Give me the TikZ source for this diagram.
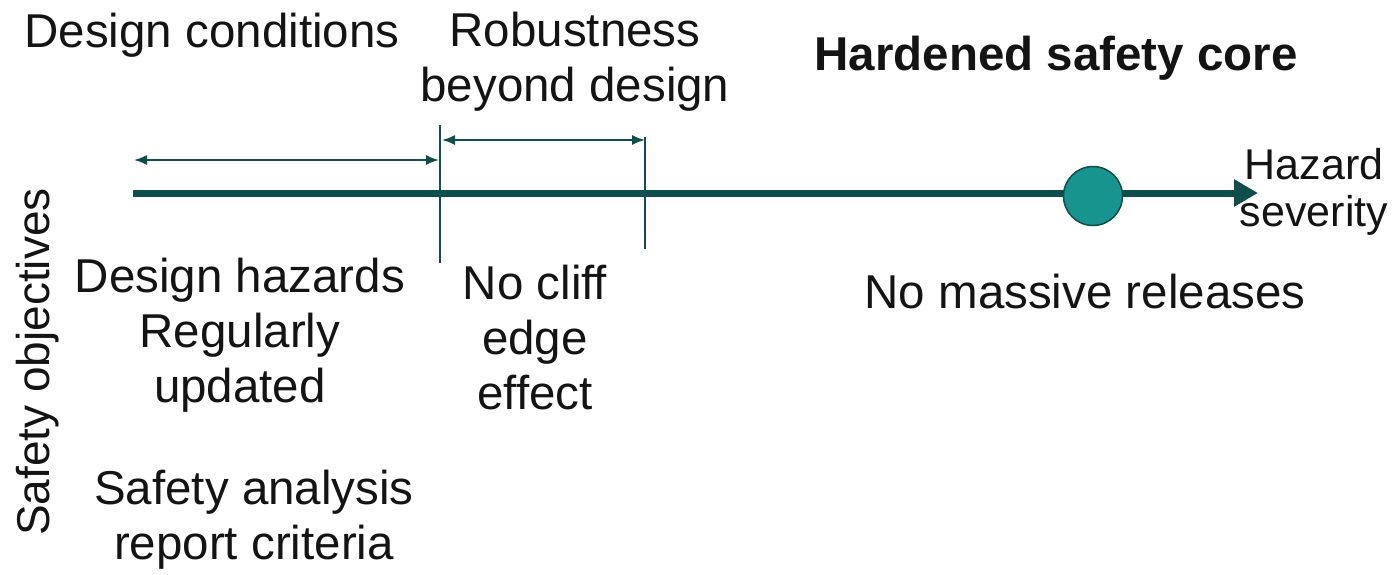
\documentclass[tikz,border=0pt]{standalone}
\usepackage{fontspec}
\setmainfont{Liberation Sans}
\usetikzlibrary{arrows.meta}
\definecolor{axisc}{RGB}{14,78,76}
\definecolor{dotc}{RGB}{24,148,142}
\definecolor{txt}{RGB}{20,20,20}
\begin{document}
\begin{tikzpicture}[x=1pt,y=-1pt,
  lbl/.style={inner sep=0pt, align=center, text=txt, font=\fontsize{47.5}{55}\selectfont},
  small/.style={inner sep=0pt, align=center, text=txt, font=\fontsize{43}{47}\selectfont},
  thinline/.style={draw=axisc, line width=1.6pt},
  dimarrow/.style={thinline, {Latex[length=13pt,width=10pt]}-{Latex[length=13pt,width=10pt]}}]
\useasboundingbox (0,0) rectangle (1395,574);
% axis
\coordinate (a0) at (133,193);
\coordinate (a1) at (1258,193);
\draw[line width=7pt, axisc, -{Triangle[length=24pt,width=26pt]}] (a0) -- (a1);
\node[circle, fill=dotc, draw=axisc, line width=1.5pt, minimum size=59pt, inner sep=0pt] (core) at (1093,196) {};
% vertical markers
\coordinate (v1t) at (440,125);
\coordinate (v1b) at (440,263);
\coordinate (v2t) at (645,137);
\coordinate (v2b) at (645,249);
\draw[thinline] (v1t) -- (v1b);
\draw[thinline] (v2t) -- (v2b);
% range arrows
\coordinate (r1a) at (134,160);
\coordinate (r1b) at (439,160);
\coordinate (r2a) at (442,140);
\coordinate (r2b) at (645,140);
\draw[dimarrow] (r1a) -- (r1b);
\draw[dimarrow] (r2a) -- (r2b);
% labels
\node[lbl] (dc) at (212,35) {Design conditions};
\node[lbl] (rb) at (575,62) {Robustness\\beyond design};
\node[lbl, font=\bfseries\fontsize{47.5}{55}\selectfont] (hc) at (1056,58) {Hardened safety core};
\node[small] (hs) at (1314,192) {Hazard\\severity};
\node[lbl] (dh) at (240,335) {Design hazards\\Regularly\\updated};
\node[lbl] (nc) at (535,338) {No cliff\\edge\\effect};
\node[lbl] (nm) at (1085,292) {No massive releases};
\node[lbl] (sa) at (254,520) {Safety analysis\\report criteria};
\node[lbl, rotate=90, font=\fontsize{46}{55}\selectfont] (so) at (38,362) {Safety objectives};
\end{tikzpicture}
\end{document}
